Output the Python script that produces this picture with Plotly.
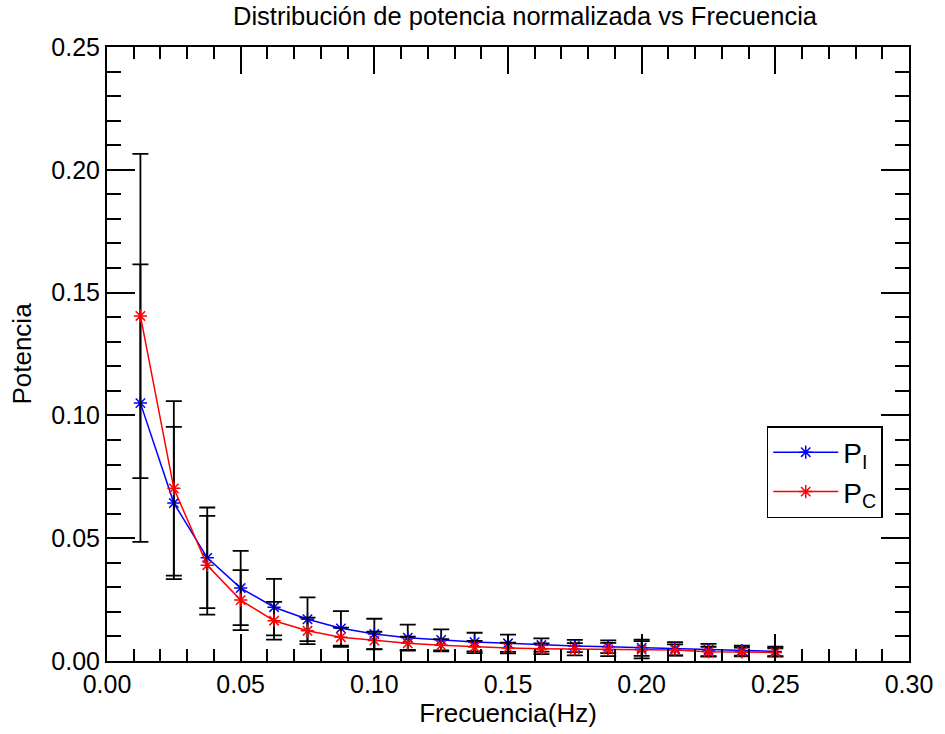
import plotly.graph_objects as go

freq = [0.0125, 0.025, 0.0375, 0.05, 0.0625, 0.075, 0.0875, 0.1, 0.1125, 0.125,
        0.1375, 0.15, 0.1625, 0.175, 0.1875, 0.2, 0.2125, 0.225, 0.2375, 0.25]
p_i = [0.105, 0.0643, 0.042, 0.0297, 0.0219, 0.017, 0.0133, 0.011, 0.0095, 0.0086,
       0.0077, 0.0072, 0.0065, 0.0061, 0.0058, 0.0054, 0.005, 0.0045, 0.0042, 0.0039]
p_i_err = [0.0565, 0.031, 0.0205, 0.0151, 0.0115, 0.0089, 0.007, 0.0062, 0.0053, 0.0043,
           0.0038, 0.0035, 0.0027, 0.0025, 0.0026, 0.0033, 0.0027, 0.0025, 0.002, 0.0019]
p_c = [0.1405, 0.0703, 0.039, 0.0248, 0.0164, 0.0123, 0.0097, 0.0083, 0.0072, 0.0064,
       0.0057, 0.0053, 0.005, 0.0048, 0.0047, 0.0046, 0.0045, 0.0038, 0.0037, 0.0035]
p_c_err = [0.066, 0.0355, 0.0201, 0.0122, 0.0077, 0.0054, 0.0039, 0.0036, 0.0027, 0.0025,
           0.0025, 0.0022, 0.0022, 0.0025, 0.0027, 0.0035, 0.0023, 0.002, 0.0018, 0.0017]

x_ticks = [0.0, 0.05, 0.10, 0.15, 0.20, 0.25, 0.30]
y_ticks = [0.0, 0.05, 0.10, 0.15, 0.20, 0.25]

FONT = "Liberation Sans, Arial, sans-serif"

fig = go.Figure()
for name, y, err, col in [("P<sub>I</sub>", p_i, p_i_err, "#0000ff"),
                          ("P<sub>C</sub>", p_c, p_c_err, "#ff0000")]:
    fig.add_trace(go.Scatter(
        x=freq, y=y, name=name, mode="lines+markers",
        line=dict(color=col, width=1.5),
        marker=dict(symbol="asterisk-open", size=11, color=col,
                    line=dict(color=col, width=1.5)),
        error_y=dict(type="data", array=err, visible=True, color="black",
                     thickness=1.8, width=8),
    ))

axis_common = dict(
    showgrid=False, zeroline=False, showline=True, linecolor="black", linewidth=2,
    mirror="ticks", ticks="inside", tickcolor="black", tickwidth=1.5,
    tickformat=".2f", tickfont=dict(family=FONT, size=25, color="black"),
)

fig.update_xaxes(range=[0, 0.30], tickvals=x_ticks, ticklen=27,
                 minor=dict(dtick=0.01, ticks="inside", ticklen=12, tickwidth=1.5, tickcolor="black"),
                 title=dict(text="Frecuencia(Hz)", font=dict(family=FONT, size=26, color="black"), standoff=6),
                 **axis_common)
fig.update_yaxes(range=[0, 0.25], tickvals=y_ticks, ticklen=28,
                 minor=dict(dtick=0.01, ticks="inside", ticklen=14, tickwidth=1.5, tickcolor="black"),
                 title=dict(text="Potencia", font=dict(family=FONT, size=26, color="black"), standoff=12),
                 **axis_common)

fig.update_layout(
    width=945, height=734,
    margin=dict(l=107, r=32, t=47, b=73),
    paper_bgcolor="white", plot_bgcolor="white",
    title=dict(text="Distribución de potencia normalizada vs Frecuencia",
               font=dict(family=FONT, size=25.5, color="black"),
               x=525 / 945, xanchor="center", xref="container", y=0.99, yanchor="top"),
    legend=dict(x=0.8226, y=0.3827, xanchor="left", yanchor="top",
                bgcolor="white", bordercolor="black", borderwidth=1.5,
                itemwidth=65, tracegroupgap=0,
                font=dict(family=FONT, size=28, color="black")),
    showlegend=True,
)

fig.write_html("out.html")
